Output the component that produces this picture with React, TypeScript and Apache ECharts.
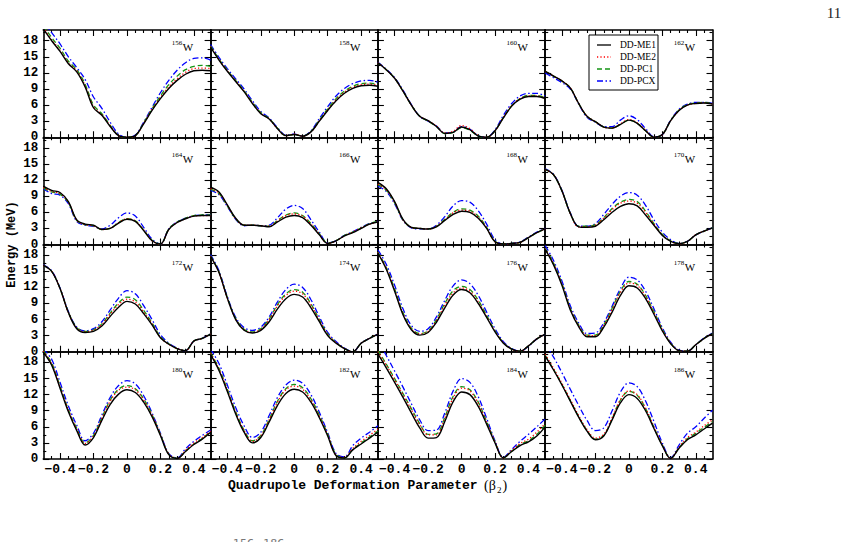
import React, { useEffect, useRef } from "react";
import * as echarts from "echarts";

const BETA = [-0.5, -0.45, -0.4, -0.35, -0.3, -0.25, -0.2, -0.15, -0.1, -0.05, 0, 0.05, 0.1, 0.15, 0.2, 0.25, 0.3, 0.35, 0.4, 0.45, 0.5];
const SERIES_NAMES = ["DD-ME1", "DD-ME2", "DD-PC1", "DD-PCX"];
const ISOTOPES = ["156", "158", "160", "162", "164", "166", "168", "170", "172", "174", "176", "178", "180", "182", "184", "186"];
const X_TICKS = [-0.4, -0.2, 0, 0.2, 0.4];
const X_MINOR = [-0.45, -0.35, -0.3, -0.25, -0.15, -0.1, -0.05, 0.05, 0.1, 0.15, 0.25, 0.3, 0.35, 0.45];
const Y_TICKS = [0, 3, 6, 9, 12, 15, 18];
const Y_MINOR = [1.5, 4.5, 7.5, 10.5, 13.5, 16.5, 19.5];
const X_TITLE = "Quadrupole Deformation Parameter";
const Y_TITLE = "Energy (MeV)";

// each: [DD-ME1, DD-ME2, DD-PC1, DD-PCX]
const E156 = [
  [20.2, 18.0, 16.0, 13.7, 12.2, 9.4, 5.5, 4.1, 2.0, 0.3, 0.0, 0.3, 2.5, 5.0, 7.2, 9.1, 10.6, 11.75, 12.4, 12.5, 12.4],
  [20.4, 18.2, 16.2, 13.9, 12.4, 9.6, 5.7, 4.2, 2.1, 0.3, 0.0, 0.3, 2.6, 5.2, 7.4, 9.4, 10.9, 12.1, 12.8, 12.9, 12.8],
  [20.8, 18.6, 16.6, 14.2, 12.6, 9.9, 6.0, 4.4, 2.2, 0.3, 0.0, 0.3, 2.7, 5.3, 7.7, 9.8, 11.4, 12.6, 13.2, 13.4, 13.2],
  [21.5, 19.5, 17.4, 15.0, 13.0, 10.8, 7.5, 5.4, 2.8, 0.6, 0.0, 0.4, 2.8, 5.6, 8.3, 10.6, 12.5, 13.9, 14.7, 14.8, 14.4],
];
const E158 = [
  [16.8, 14.4, 12.3, 10.4, 8.5, 6.3, 4.4, 3.4, 1.6, 0.3, 0.5, 0.2, 1.0, 3.0, 5.0, 6.8, 8.2, 9.1, 9.6, 9.7, 9.5],
  [16.9, 14.5, 12.4, 10.5, 8.6, 6.4, 4.5, 3.4, 1.6, 0.3, 0.6, 0.2, 1.0, 3.1, 5.1, 7.0, 8.4, 9.3, 9.8, 9.9, 9.7],
  [17.0, 14.6, 12.5, 10.6, 8.7, 6.5, 4.6, 3.5, 1.7, 0.3, 0.5, 0.2, 1.1, 3.2, 5.3, 7.2, 8.6, 9.5, 10.0, 10.1, 9.9],
  [17.3, 14.9, 12.8, 10.9, 9.0, 6.8, 4.8, 3.6, 1.8, 0.4, 0.6, 0.2, 1.2, 3.5, 5.7, 7.7, 9.1, 10.0, 10.5, 10.6, 10.3],
];
const E160 = [
  [13.9, 12.6, 11.0, 8.6, 6.0, 3.9, 3.1, 2.0, 0.7, 0.9, 1.9, 1.4, 0.2, 0.0, 1.2, 3.6, 5.8, 7.1, 7.6, 7.6, 7.2],
  [13.9, 12.6, 11.0, 8.6, 6.0, 3.9, 3.1, 2.1, 0.8, 1.1, 2.2, 1.6, 0.3, 0.0, 1.2, 3.7, 5.9, 7.2, 7.7, 7.7, 7.3],
  [13.9, 12.6, 11.0, 8.6, 6.0, 3.9, 3.0, 2.0, 0.7, 0.9, 1.8, 1.3, 0.2, 0.0, 1.2, 3.7, 5.9, 7.2, 7.8, 7.8, 7.4],
  [14.0, 12.7, 11.1, 8.8, 6.1, 3.9, 3.0, 2.1, 0.8, 1.0, 2.0, 1.5, 0.3, 0.0, 1.4, 4.1, 6.3, 7.7, 8.2, 8.2, 7.7],
];
const E162 = [
  [12.3, 11.4, 10.5, 9.2, 6.3, 3.9, 2.9, 1.9, 1.7, 2.4, 3.2, 2.6, 1.2, 0.0, 0.5, 3.1, 5.0, 6.0, 6.3, 6.4, 6.2],
  [12.3, 11.4, 10.5, 9.2, 6.3, 3.9, 2.9, 1.9, 1.7, 2.5, 3.3, 2.7, 1.3, 0.0, 0.5, 3.1, 5.0, 6.0, 6.3, 6.4, 6.2],
  [12.3, 11.4, 10.5, 9.2, 6.3, 3.9, 2.9, 1.9, 1.7, 2.4, 3.2, 2.6, 1.2, 0.0, 0.5, 3.1, 5.1, 6.1, 6.4, 6.5, 6.3],
  [12.0, 11.1, 10.2, 9.0, 6.2, 3.7, 2.8, 2.0, 2.0, 3.2, 4.0, 3.3, 1.6, 0.1, 0.5, 3.2, 5.2, 6.2, 6.5, 6.5, 6.3],
];
const E164 = [
  [10.9, 10.1, 9.7, 8.0, 4.6, 3.8, 3.6, 2.8, 3.0, 4.0, 4.7, 4.3, 2.6, 0.7, 0.1, 2.8, 4.1, 4.8, 5.3, 5.4, 5.4],
  [10.6, 9.9, 9.5, 7.9, 4.5, 3.7, 3.5, 2.8, 3.0, 4.1, 4.8, 4.4, 2.7, 0.7, 0.1, 2.8, 4.1, 4.8, 5.3, 5.4, 5.4],
  [10.5, 9.8, 9.4, 7.8, 4.5, 3.7, 3.5, 2.8, 3.0, 4.1, 4.8, 4.4, 2.7, 0.8, 0.1, 2.9, 4.2, 4.9, 5.4, 5.5, 5.5],
  [10.4, 9.5, 9.2, 7.6, 4.3, 3.6, 3.4, 2.9, 3.6, 5.0, 5.9, 5.3, 3.2, 1.0, 0.1, 2.9, 4.2, 4.9, 5.4, 5.5, 5.5],
];
const E166 = [
  [10.7, 9.8, 7.4, 4.9, 3.6, 3.6, 3.5, 3.3, 4.2, 5.1, 5.4, 5.0, 3.6, 1.8, 0.2, 0.7, 1.6, 2.2, 3.0, 3.8, 4.2],
  [10.4, 9.6, 7.3, 4.8, 3.6, 3.6, 3.5, 3.4, 4.4, 5.4, 5.7, 5.3, 3.8, 1.9, 0.2, 0.7, 1.6, 2.3, 3.1, 3.8, 4.2],
  [10.3, 9.5, 7.2, 4.8, 3.6, 3.6, 3.5, 3.4, 4.5, 5.5, 5.9, 5.4, 3.9, 2.0, 0.3, 0.7, 1.7, 2.3, 3.1, 3.9, 4.3],
  [10.1, 9.3, 7.1, 4.7, 3.5, 3.6, 3.5, 3.6, 5.0, 6.6, 7.3, 6.7, 4.6, 2.3, 0.3, 0.7, 1.7, 2.4, 3.2, 3.9, 4.3],
];
const E168 = [
  [11.6, 10.4, 8.0, 4.7, 3.2, 3.0, 2.9, 3.3, 4.5, 5.6, 6.2, 6.0, 4.9, 3.0, 0.5, 0.1, 0.2, 0.4, 1.3, 2.2, 2.9],
  [11.3, 10.2, 7.9, 4.6, 3.2, 3.0, 2.9, 3.4, 4.6, 5.9, 6.4, 6.2, 5.1, 3.1, 0.5, 0.1, 0.2, 0.4, 1.3, 2.2, 2.9],
  [11.2, 10.1, 7.8, 4.6, 3.2, 3.0, 2.9, 3.4, 4.7, 6.0, 6.65, 6.4, 5.3, 3.2, 0.6, 0.1, 0.2, 0.4, 1.3, 2.2, 2.9],
  [10.9, 9.9, 7.6, 4.5, 3.1, 2.9, 2.9, 3.6, 5.2, 7.2, 8.2, 7.9, 6.3, 3.8, 0.9, 0.1, 0.2, 0.5, 1.4, 2.3, 3.0],
];
const E170 = [
  [14.0, 13.0, 10.0, 5.8, 3.3, 3.2, 3.4, 4.6, 6.0, 7.1, 7.6, 7.2, 5.5, 3.6, 1.7, 0.6, 0.15, 0.6, 1.8, 2.5, 3.1],
  [14.0, 13.0, 10.0, 5.8, 3.3, 3.3, 3.6, 4.9, 6.5, 7.7, 8.1, 7.7, 6.0, 3.8, 1.8, 0.6, 0.15, 0.6, 1.8, 2.5, 3.1],
  [14.0, 13.0, 10.0, 5.8, 3.4, 3.4, 3.7, 5.0, 6.7, 7.9, 8.4, 8.0, 6.2, 3.9, 1.9, 0.7, 0.15, 0.6, 1.8, 2.5, 3.1],
  [14.1, 13.1, 10.1, 5.9, 3.4, 3.4, 3.9, 5.6, 7.5, 9.0, 9.7, 9.2, 7.3, 4.6, 2.3, 0.9, 0.2, 0.6, 1.8, 2.5, 3.1],
];
const E172 = [
  [16.1, 15.0, 11.8, 7.3, 4.3, 3.6, 3.8, 4.8, 6.6, 8.3, 9.4, 8.9, 7.1, 5.0, 2.6, 1.4, 0.6, 0.2, 2.0, 2.5, 3.3],
  [16.1, 15.0, 11.8, 7.3, 4.4, 3.7, 4.0, 5.1, 7.0, 8.8, 9.8, 9.3, 7.4, 5.2, 2.7, 1.4, 0.6, 0.2, 2.0, 2.5, 3.3],
  [16.1, 15.0, 11.8, 7.4, 4.5, 3.8, 4.1, 5.2, 7.2, 9.1, 10.2, 9.7, 7.7, 5.4, 2.8, 1.5, 0.6, 0.2, 2.0, 2.5, 3.3],
  [16.2, 15.1, 11.9, 7.5, 4.6, 3.9, 4.3, 5.6, 7.8, 10.0, 11.4, 10.8, 8.6, 6.0, 3.2, 1.6, 0.7, 0.2, 2.0, 2.5, 3.3],
];
const E174 = [
  [17.8, 14.8, 10.0, 6.0, 4.0, 3.5, 4.0, 5.6, 8.0, 9.9, 10.7, 10.2, 8.2, 5.6, 3.0, 1.6, 0.6, 0.0, 1.6, 2.5, 3.3],
  [17.8, 14.8, 10.0, 6.1, 4.1, 3.6, 4.2, 6.0, 8.6, 10.5, 11.3, 10.8, 8.7, 5.9, 3.2, 1.7, 0.6, 0.0, 1.6, 2.5, 3.3],
  [17.9, 14.9, 10.1, 6.2, 4.2, 3.7, 4.3, 6.1, 8.8, 10.8, 11.6, 11.1, 8.9, 6.0, 3.3, 1.7, 0.6, 0.0, 1.6, 2.5, 3.3],
  [18.1, 15.1, 10.3, 6.4, 4.5, 4.0, 4.6, 6.5, 9.3, 11.6, 12.6, 12.0, 9.7, 6.5, 3.6, 1.9, 0.7, 0.0, 1.6, 2.5, 3.3],
];
const E176 = [
  [18.4, 15.4, 11.3, 6.9, 4.1, 3.1, 3.6, 5.5, 8.2, 10.6, 11.6, 11.0, 9.0, 6.4, 3.7, 1.6, 0.5, 0.1, 1.1, 2.4, 3.3],
  [18.5, 15.6, 11.5, 7.1, 4.3, 3.3, 3.8, 5.8, 8.7, 11.0, 11.9, 11.3, 9.3, 6.6, 3.8, 1.7, 0.5, 0.1, 1.1, 2.4, 3.3],
  [18.6, 15.7, 11.7, 7.3, 4.4, 3.4, 3.9, 6.0, 9.0, 11.4, 12.2, 11.6, 9.6, 6.8, 3.9, 1.7, 0.5, 0.1, 1.1, 2.4, 3.3],
  [19.0, 16.3, 12.4, 8.0, 4.9, 3.8, 4.3, 6.5, 9.6, 12.3, 13.4, 12.7, 10.5, 7.4, 4.3, 1.9, 0.6, 0.1, 1.0, 2.4, 3.3],
];
const E178 = [
  [19.1, 16.2, 12.4, 7.8, 4.7, 2.8, 2.8, 4.6, 7.4, 10.5, 12.3, 11.9, 9.9, 7.0, 3.9, 1.5, 0.2, 0.1, 1.3, 2.5, 3.4],
  [19.2, 16.4, 12.6, 8.0, 4.9, 3.0, 3.0, 4.9, 7.9, 11.1, 12.8, 12.4, 10.3, 7.3, 4.1, 1.6, 0.2, 0.1, 1.3, 2.5, 3.4],
  [19.3, 16.5, 12.7, 8.1, 5.0, 3.1, 3.1, 5.0, 8.1, 11.3, 13.1, 12.6, 10.5, 7.5, 4.2, 1.6, 0.2, 0.1, 1.3, 2.5, 3.4],
  [19.8, 17.0, 13.2, 8.6, 5.4, 3.4, 3.5, 5.4, 8.5, 11.8, 13.9, 13.4, 11.3, 8.0, 4.5, 1.8, 0.3, 0.1, 1.3, 2.6, 3.5],
];
const E180 = [
  [19.9, 17.5, 13.2, 8.8, 5.3, 2.6, 4.0, 7.2, 10.2, 12.1, 12.9, 12.4, 10.6, 7.9, 4.4, 0.8, 0.1, 1.4, 2.7, 3.7, 5.0],
  [20.1, 17.8, 13.5, 9.1, 5.6, 2.9, 4.3, 7.6, 10.8, 12.8, 13.4, 12.9, 11.0, 8.2, 4.6, 0.9, 0.1, 1.6, 3.0, 4.0, 5.2],
  [20.2, 17.9, 13.6, 9.2, 5.7, 3.0, 4.4, 7.7, 11.0, 13.0, 13.7, 13.1, 11.2, 8.3, 4.6, 0.9, 0.1, 1.5, 2.8, 3.8, 5.1],
  [20.5, 18.6, 14.3, 9.9, 6.3, 3.4, 4.8, 8.2, 11.5, 13.7, 14.6, 14.0, 11.8, 8.6, 4.8, 1.0, 0.2, 1.9, 3.3, 4.4, 5.4],
];
const E182 = [
  [19.5, 16.5, 12.6, 8.4, 5.0, 3.0, 4.0, 6.9, 10.0, 12.2, 13.0, 12.5, 10.6, 7.7, 4.3, 0.6, 0.2, 1.7, 2.8, 3.9, 5.0],
  [19.7, 16.8, 12.9, 8.7, 5.3, 3.3, 4.3, 7.3, 10.6, 12.9, 13.6, 13.0, 11.0, 8.0, 4.5, 0.7, 0.3, 2.0, 3.3, 4.4, 5.6],
  [19.8, 16.9, 13.0, 8.8, 5.4, 3.4, 4.4, 7.4, 10.8, 13.1, 13.9, 13.3, 11.2, 8.2, 4.6, 0.8, 0.2, 1.8, 3.0, 4.1, 5.2],
  [20.5, 17.8, 13.8, 9.6, 6.2, 4.0, 5.0, 8.1, 11.5, 13.8, 14.7, 14.1, 12.0, 8.7, 4.9, 1.0, 0.4, 2.5, 3.9, 5.0, 6.2],
];
const E184 = [
  [19.6, 17.0, 14.3, 11.5, 8.6, 5.8, 3.9, 4.0, 7.0, 10.7, 12.5, 12.0, 9.8, 6.5, 3.0, 0.2, 1.4, 2.5, 3.2, 4.3, 6.0],
  [20.0, 17.5, 14.8, 12.0, 9.2, 6.4, 4.5, 4.5, 7.6, 11.4, 13.2, 12.7, 10.4, 6.9, 3.2, 0.2, 1.6, 2.9, 3.7, 5.0, 6.6],
  [20.3, 17.7, 15.0, 12.2, 9.4, 6.6, 4.6, 4.7, 7.8, 11.7, 13.5, 12.9, 10.6, 7.0, 3.2, 0.2, 1.5, 2.7, 3.4, 4.6, 6.3],
  [22.0, 19.3, 16.4, 13.4, 10.3, 7.3, 5.3, 5.4, 8.6, 12.7, 15.0, 14.3, 11.6, 7.6, 3.4, 0.3, 1.8, 3.3, 4.6, 6.0, 7.5],
];
const E186 = [
  [19.2, 16.6, 13.8, 10.8, 7.8, 5.2, 3.6, 4.3, 7.3, 10.5, 12.0, 11.3, 9.0, 5.7, 2.5, 0.1, 2.0, 3.6, 4.5, 5.6, 6.7],
  [19.5, 16.9, 14.1, 11.1, 8.1, 5.5, 3.9, 4.6, 7.7, 11.1, 12.7, 12.0, 9.5, 6.0, 2.6, 0.1, 2.2, 4.0, 5.0, 6.2, 7.3],
  [19.3, 16.7, 13.9, 10.9, 7.9, 5.3, 3.7, 4.4, 7.5, 11.0, 12.6, 11.9, 9.4, 5.9, 2.6, 0.1, 2.1, 3.8, 4.8, 5.9, 7.0],
  [21.5, 19.0, 16.1, 13.0, 10.0, 7.2, 5.3, 5.8, 9.0, 12.5, 14.2, 13.5, 10.8, 7.0, 3.0, 0.2, 2.6, 4.8, 6.0, 7.6, 9.1],
];

const PANELS = [E156, E158, E160, E162, E164, E166, E168, E170, E172, E174, E176, E178, E180, E182, E184, E186];

const LINE_STYLES = [
  { color: "#000000", type: "solid" as any, width: 1.4 },
  { color: "#ff0000", type: [1.2, 2.2] as any, width: 1.3 },
  { color: "#149414", type: [5, 3] as any, width: 1.3 },
  { color: "#0000ff", type: [6, 2.5, 1.5, 2.5] as any, width: 1.3 },
];

const GRID_LEFT = 43.3;
const GRID_TOP = 30;
const CELL_W = 167.3;
const CELL_H = 107.25;
const MONO = "'Liberation Mono', 'DejaVu Sans Mono', monospace";
const SERIF = "'Liberation Serif', 'DejaVu Serif', serif";

function fmtX(v: number) {
  if (Math.abs(v) < 1e-9) return "0";
  return (v < 0 ? "\u2212" : "") + Math.abs(v).toFixed(1);
}

export default function App() {
  const ref = useRef<HTMLDivElement>(null);
  useEffect(() => {
    if (!ref.current) return;
    const chart = echarts.init(ref.current, undefined, { renderer: "svg" });
    const grids: any[] = [];
    const xAxes: any[] = [];
    const yAxes: any[] = [];
    const series: any[] = [];
    const graphics: any[] = [];

    PANELS.forEach((panel, g) => {
      const r = Math.floor(g / 4);
      const c = g % 4;
      const left = GRID_LEFT + c * CELL_W;
      const top = GRID_TOP + r * CELL_H;
      grids.push({ left, top, width: CELL_W, height: CELL_H, show: false });

      const mkX = (position: string, ticks: number[], len: number, line: boolean, labels: boolean) => ({
        type: "value",
        gridIndex: g,
        position,
        min: -0.5,
        max: 0.5,
        axisLine: { show: line, onZero: false, lineStyle: { color: "#000", width: 1.6 } },
        axisTick: { show: true, inside: true, length: len, customValues: ticks, lineStyle: { color: "#000", width: 1.1 } },
        axisLabel: {
          show: labels,
          customValues: X_TICKS,
          formatter: fmtX,
          fontFamily: MONO,
          fontWeight: "bold",
          fontSize: 13,
          color: "#000",
          margin: 4,
        },
        splitLine: { show: false },
      });
      const mkY = (position: string, ticks: number[], len: number, line: boolean, labels: boolean) => ({
        type: "value",
        gridIndex: g,
        position,
        min: 0,
        max: 20,
        axisLine: { show: line, onZero: false, lineStyle: { color: "#000", width: 1.6 } },
        axisTick: { show: true, inside: true, length: len, customValues: ticks, lineStyle: { color: "#000", width: 1.1 } },
        axisLabel: {
          show: labels,
          customValues: Y_TICKS,
          fontFamily: MONO,
          fontWeight: "bold",
          fontSize: 12.5,
          lineHeight: 10,
          color: "#000",
          margin: 5,
        },
        splitLine: { show: false },
      });
      xAxes.push(mkX("bottom", X_TICKS, 6, true, r === 3));
      xAxes.push(mkX("bottom", X_MINOR, 3, false, false));
      xAxes.push(mkX("top", X_TICKS, 6, true, false));
      xAxes.push(mkX("top", X_MINOR, 3, false, false));
      yAxes.push(mkY("left", Y_TICKS, 6, true, c === 0));
      yAxes.push(mkY("left", Y_MINOR, 3, false, false));
      yAxes.push(mkY("right", Y_TICKS, 6, true, false));
      yAxes.push(mkY("right", Y_MINOR, 3, false, false));

      panel.forEach((vals, k) => {
        series.push({
          type: "line",
          name: SERIES_NAMES[k],
          xAxisIndex: g * 4,
          yAxisIndex: g * 4,
          data: BETA.map((b, i) => [b, vals[i]]),
          showSymbol: false,
          symbol: "none",
          smooth: 0.35,
          clip: true,
          z: 6 - k,
          lineStyle: LINE_STYLES[k],
          itemStyle: { color: LINE_STYLES[k].color },
        });
      });

      const wy = top + (r === 0 ? 17 : 22);
      graphics.push({
        type: "text",
        x: left + 139,
        y: wy - 4,
        style: { text: ISOTOPES[g], font: `7px ${SERIF}`, fill: "#000", textAlign: "right", textVerticalAlign: "middle" },
        z: 20,
      });
      graphics.push({
        type: "text",
        x: left + 139.5,
        y: wy,
        style: { text: "W", font: `11px ${SERIF}`, fill: "#000", textAlign: "left", textVerticalAlign: "middle" },
        z: 20,
      });
    });

    // legend box in the top-right panel
    const lx = 589, ly = 35;
    graphics.push({
      type: "rect",
      shape: { x: lx, y: ly, width: 69, height: 55 },
      style: { fill: "#fff", stroke: "#000", lineWidth: 1 },
      z: 30,
    });
    SERIES_NAMES.forEach((name, k) => {
      const yy = ly + 10 + k * 12;
      graphics.push({
        type: "line",
        shape: { x1: lx + 8, y1: yy, x2: lx + 22, y2: yy },
        style: { stroke: LINE_STYLES[k].color, lineWidth: 1.3, lineDash: LINE_STYLES[k].type === "solid" ? null : LINE_STYLES[k].type },
        z: 31,
      });
      graphics.push({
        type: "text",
        x: lx + 31,
        y: yy,
        style: { text: name, font: `9.5px ${SERIF}`, fill: "#000", textAlign: "left", textVerticalAlign: "middle" },
        z: 31,
      });
    });

    // axis titles
    graphics.push({
      type: "text",
      x: 12,
      y: GRID_TOP + 2 * CELL_H,
      rotation: Math.PI / 2,
      style: { text: Y_TITLE, font: `bold 12px ${MONO}`, fill: "#000", textAlign: "center", textVerticalAlign: "middle" },
    });
    graphics.push({
      type: "text",
      x: 228,
      y: 485,
      style: { text: X_TITLE, font: `bold 13px ${MONO}`, fill: "#000", textAlign: "left", textVerticalAlign: "middle" },
    });
    graphics.push({
      type: "text",
      x: 484,
      y: 485,
      style: { text: "(\u03b2", font: `14px ${SERIF}`, fill: "#000", textAlign: "left", textVerticalAlign: "middle" },
    });
    graphics.push({
      type: "text",
      x: 497,
      y: 490,
      style: { text: "2", font: `9px ${SERIF}`, fill: "#000", textAlign: "left", textVerticalAlign: "middle" },
    });
    graphics.push({
      type: "text",
      x: 502.5,
      y: 485,
      style: { text: ")", font: `14px ${SERIF}`, fill: "#000", textAlign: "left", textVerticalAlign: "middle" },
    });
    // page number and cut-off caption
    graphics.push({
      type: "text",
      x: 834,
      y: 13,
      style: { text: "11", font: `15px ${SERIF}`, fill: "#222", textAlign: "center", textVerticalAlign: "middle" },
    });
    graphics.push({
      type: "text",
      x: 233,
      y: 538,
      style: { text: "156\u2212186", font: `11px 'DejaVu Sans', sans-serif`, fill: "#777", textAlign: "left", textVerticalAlign: "top" },
    });

    chart.setOption({
      animation: false,
      backgroundColor: "#fff",
      grid: grids,
      xAxis: xAxes,
      yAxis: yAxes,
      series,
      graphic: graphics,
    });
    return () => chart.dispose();
  }, []);
  return <div ref={ref} style={{ position: "fixed", left: 0, top: 0, width: 850, height: 542 }} />;
}
